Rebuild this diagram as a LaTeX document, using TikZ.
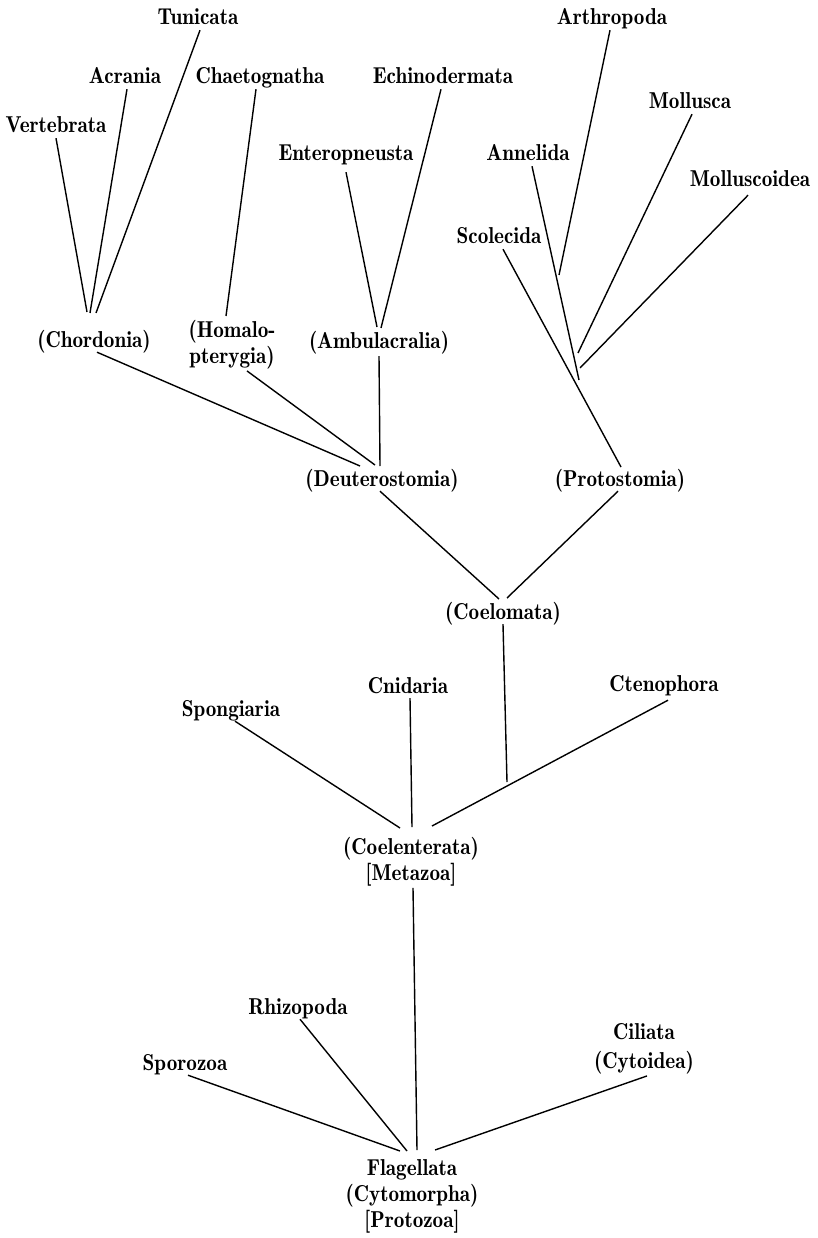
\documentclass[tikz,border=0pt]{standalone}
\usepackage{fontspec}
\setmainfont{lmromandemi10-regular.otf}[FakeStretch=0.92]
\usepackage{tikz}

\tikzset{
  taxon/.style = {anchor=base, inner xsep=2pt, inner ysep=5pt, text depth=0pt,
                  font=\fontsize{23}{26}\selectfont},
  taxa/.style  = {anchor=base, inner sep=2pt, align=center,
                  font=\fontsize{23}{26}\selectfont},
  branch/.style = {line width=1.4pt}
}

\begin{document}
\begin{tikzpicture}[x=1pt, y=-1pt]
\useasboundingbox (0,0) rectangle (818,1238);
%\draw [very thin, color = gray](0, 0) grid [step=100] (818, 1238);

% Deuterostomia side
\node [taxon] (tunicata) at (198,25) {Tunicata};
\node [taxon] (acrania) at (125,84) {Acrania};
\node [taxon] (vertebrata) at (56,133) {Vertebrata};
\node [taxon] (chaetognatha) at (260,84) {Chaetognatha};
\node [taxon] (enteropneusta) at (346,161) {Enteropneusta};
\node [taxon] (echinodermata) at (443,84) {Echinodermata};
\node [taxon] (chordonia) at (94,347) {(Chordonia)};
\node [taxa] (homalopterygia) at (232,363) {(Homalo-\\pterygia)};
\node [taxon] (ambulacralia) at (379,348) {(Ambulacralia)};
\node [taxon] (deuterostomia) at (382,486) {(Deuterostomia)};

% Protostomia side
\node [taxon] (arthropoda) at (612,25) {Arthropoda};
\node [taxon] (mollusca) at (690,109) {Mollusca};
\node [taxon] (annelida) at (528,161) {Annelida};
\node [taxon] (molluscoidea) at (750,187) {Molluscoidea};
\node [taxon] (scolecida) at (499,244) {Scolecida};
\node [taxon] (protostomia) at (620,486) {(Protostomia)};

% Coelomata and Coelenterata
\node [taxon] (coelomata) at (503,619) {(Coelomata)};
\node [taxon] (spongiaria) at (231,716) {Spongiaria};
\node [taxon] (cnidaria) at (408,693) {Cnidaria};
\node [taxon] (ctenophora) at (664,691) {Ctenophora};
\node [taxa] (coelenterata) at (411,880) {(Coelenterata)\\{[Metazoa]}};

% Protozoa
\node [taxon] (rhizopoda) at (298,1014) {Rhizopoda};
\node [taxon] (sporozoa) at (185,1070) {Sporozoa};
\node [taxa] (ciliata) at (644,1068) {Ciliata\\[3pt](Cytoidea)};
\node [taxa] (flagellata) at (412,1227) {Flagellata\\(Cytomorpha)\\{[Protozoa]}};

% where the branches end
\coordinate (chord-a) at (87,312);
\coordinate (chord-b) at (90,313);
\coordinate (chord-c) at (96,313);
\coordinate (homal-a) at (226,316);
\coordinate (ambul-a) at (377,327);
\coordinate (ambul-b) at (381,328);
\coordinate (deut-a) at (360,466);
\coordinate (deut-b) at (375,465);
\coordinate (deut-c) at (380,466);
\coordinate (prot-a) at (621,467);
\coordinate (prot-b) at (579,380);
\coordinate (prot-c) at (559,275);
\coordinate (prot-d) at (578,353);
\coordinate (prot-e) at (580,368);
\coordinate (coel-a) at (499,599);
\coordinate (coel-b) at (507,598);
\coordinate (coel-c) at (507,782);
\coordinate (coelent-a) at (400,828);
\coordinate (coelent-b) at (412,827);
\coordinate (coelent-c) at (432,826);
\coordinate (flag-a) at (417,1150);
\coordinate (flag-b) at (407,1151);
\coordinate (flag-c) at (400,1151);
\coordinate (flag-d) at (435,1150);

\draw [branch] (vertebrata.south) to (chord-a);
\draw [branch] ([xshift=2pt]acrania.south) to (chord-b);
\draw [branch] ([xshift=2pt]tunicata.south) to (chord-c);
\draw [branch] ([xshift=-4pt]chaetognatha.south) to (homal-a);
\draw [branch] ([yshift=-6pt]enteropneusta.south) to (ambul-a);
\draw [branch] ([xshift=-2pt]echinodermata.south) to (ambul-b);
\draw [branch] ([xshift=3pt]chordonia.south) to (deut-a);
\draw [branch] ([xshift=15pt]homalopterygia.south) to (deut-b);
\draw [branch] ([yshift=-3pt]ambulacralia.south) to (deut-c);
\draw [branch] ([xshift=4pt]scolecida.south) to (prot-a);
\draw [branch] ([xshift=4pt]annelida.south) to (prot-b);
\draw [branch] ([xshift=-2pt]arthropoda.south) to (prot-c);
\draw [branch] ([xshift=2pt]mollusca.south) to (prot-d);
\draw [branch] ([xshift=-2pt,yshift=-3pt]molluscoidea.south) to (prot-e);
\draw [branch] ([xshift=-2pt]deuterostomia.south) to (coel-a);
\draw [branch] ([xshift=-2pt]protostomia.south) to (coel-b);
\draw [branch] (coelomata.south) to (coel-c);
\draw [branch] ([xshift=4pt]spongiaria.south) to (coelent-a);
\draw [branch] ([xshift=2pt]cnidaria.south) to (coelent-b);
\draw [branch] ([xshift=4pt,yshift=-4pt]ctenophora.south) to (coelent-c);
\draw [branch] ([xshift=2pt]coelenterata.south) to (flag-a);
\draw [branch] ([xshift=2pt]rhizopoda.south) to (flag-b);
\draw [branch] ([xshift=3pt]sporozoa.south) to (flag-c);
\draw [branch] ([xshift=3pt]ciliata.south) to (flag-d);
\end{tikzpicture}
\end{document}
